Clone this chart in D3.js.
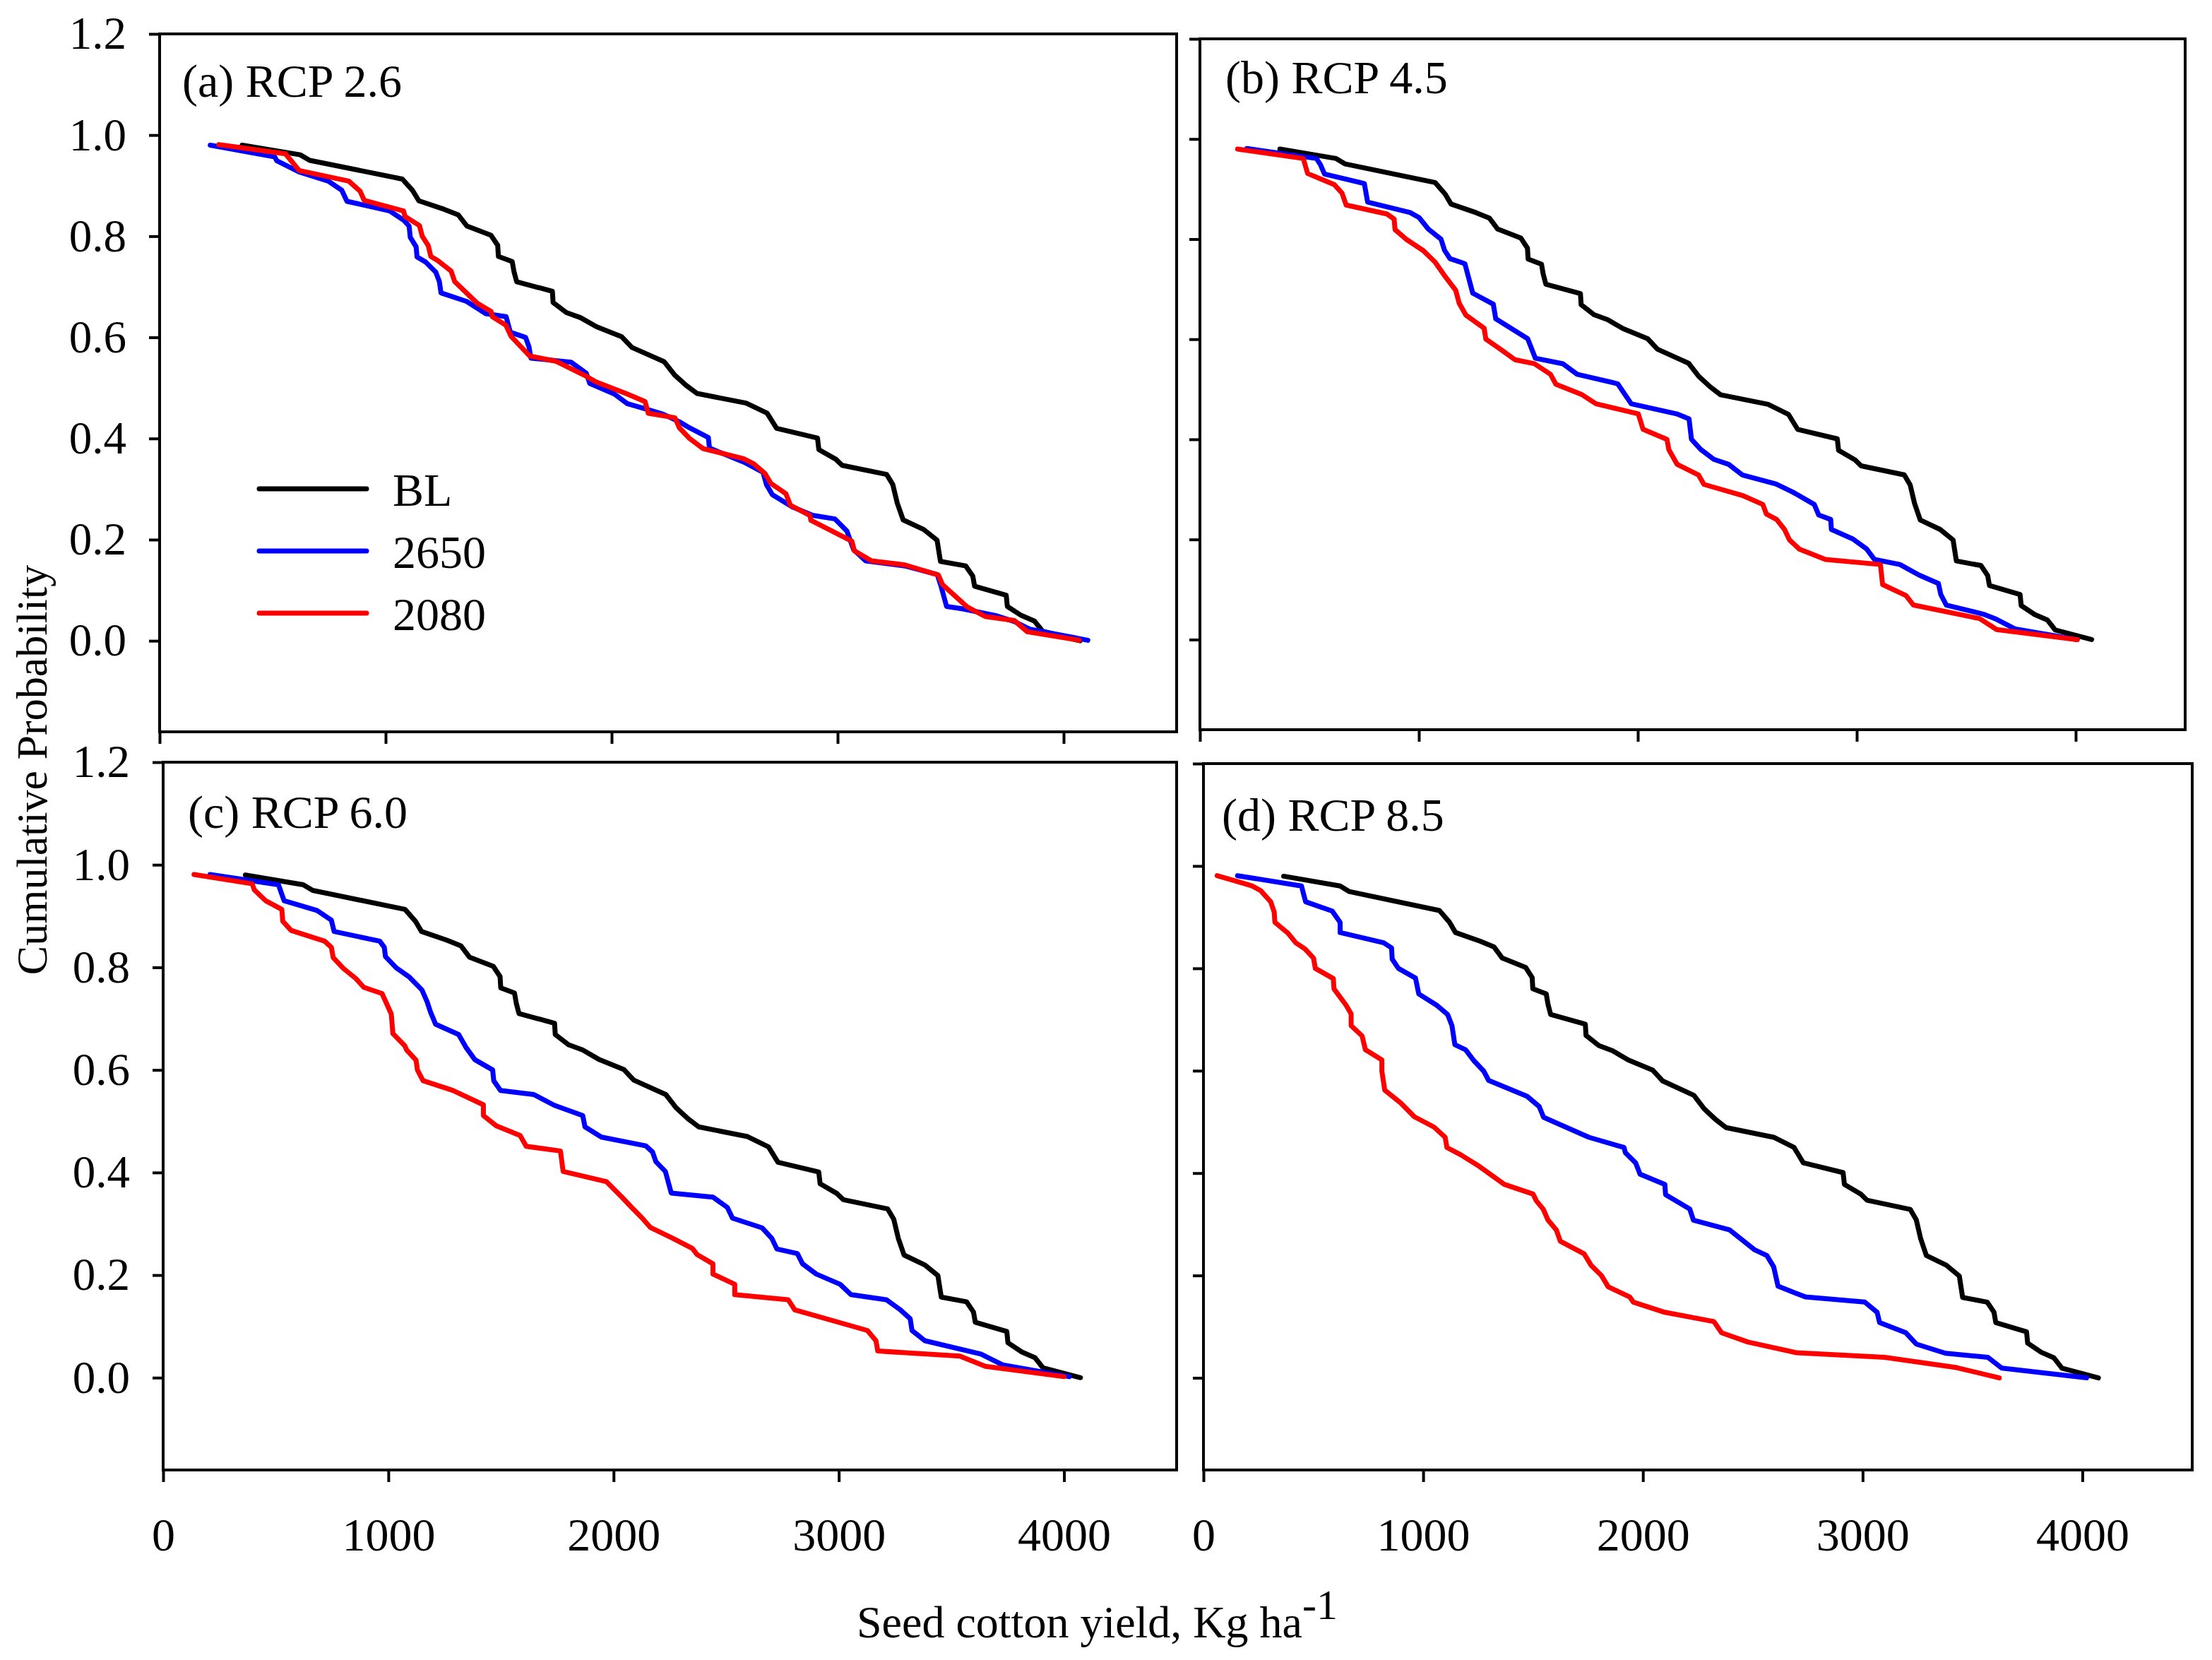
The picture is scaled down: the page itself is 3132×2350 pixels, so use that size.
<!DOCTYPE html>
<html>
<head>
<meta charset="utf-8">
<script src="https://cdn.jsdelivr.net/npm/d3@7"></script>
<style>
  html, body { margin: 0; padding: 0; background: #ffffff; }
</style>
</head>
<body>
<script>
// ---------------- DATA ----------------
const xTicks = [0, 1000, 2000, 3000, 4000];
const yTicks = [0.0, 0.2, 0.4, 0.6, 0.8, 1.0, 1.2];
const xDomain = [0, 4500];
const yDomain = [-0.18, 1.2];
const seriesNames = ["BL", "2650", "2080"];
const seriesColors = ["#000000", "#0000ff", "#ff0000"];
const panelTitles = ["(a) RCP 2.6", "(b) RCP 4.5", "(c) RCP 6.0", "(d) RCP 8.5"];

// [seed cotton yield (kg/ha), cumulative probability]
const baseline = [[365,0.980],[622,0.961],[664,0.950],[1074,0.913],[1120,0.890],[1147,0.870],[1260,0.853],[1322,0.842],[1360,0.820],[1466,0.802],[1496,0.782],[1499,0.760],[1560,0.750],[1568,0.730],[1580,0.710],[1738,0.691],[1741,0.669],[1800,0.649],[1862,0.639],[1933,0.621],[2045,0.601],[2090,0.580],[2232,0.552],[2278,0.526],[2330,0.505],[2378,0.489],[2595,0.470],[2688,0.450],[2730,0.420],[2911,0.401],[2917,0.378],[2992,0.359],[3020,0.347],[3217,0.329],[3244,0.309],[3264,0.272],[3290,0.239],[3381,0.220],[3440,0.199],[3455,0.157],[3567,0.148],[3598,0.128],[3606,0.108],[3746,0.090],[3751,0.068],[3813,0.050],[3871,0.039],[3907,0.019],[4073,0.000]];

const rcp26_2650 = [[224,0.980],[509,0.957],[519,0.949],[617,0.927],[746,0.909],[806,0.891],[829,0.869],[1018,0.850],[1079,0.832],[1104,0.820],[1109,0.798],[1135,0.779],[1139,0.759],[1177,0.749],[1222,0.729],[1238,0.710],[1245,0.688],[1359,0.671],[1442,0.647],[1533,0.641],[1552,0.610],[1619,0.600],[1634,0.582],[1643,0.559],[1820,0.551],[1888,0.529],[1903,0.509],[2012,0.488],[2069,0.469],[2153,0.458],[2228,0.448],[2300,0.433],[2345,0.421],[2428,0.402],[2433,0.381],[2587,0.353],[2670,0.333],[2685,0.309],[2711,0.289],[2799,0.265],[2889,0.248],[2988,0.241],[3041,0.217],[3071,0.180],[3124,0.158],[3298,0.148],[3441,0.131],[3457,0.109],[3482,0.068],[3555,0.063],[3706,0.049],[3782,0.038],[3850,0.023],[4107,0.001]];
const rcp26_2080 = [[262,0.981],[557,0.963],[617,0.930],[837,0.909],[887,0.889],[905,0.871],[1079,0.850],[1086,0.839],[1150,0.821],[1162,0.800],[1189,0.781],[1200,0.760],[1230,0.752],[1290,0.731],[1306,0.710],[1404,0.668],[1467,0.651],[1472,0.641],[1532,0.624],[1555,0.602],[1638,0.563],[1752,0.553],[1888,0.523],[1930,0.512],[2069,0.488],[2148,0.473],[2162,0.450],[2280,0.441],[2300,0.421],[2345,0.400],[2405,0.380],[2584,0.360],[2629,0.350],[2678,0.331],[2705,0.311],[2771,0.291],[2791,0.268],[2877,0.248],[2882,0.238],[3063,0.197],[3074,0.178],[3150,0.158],[3298,0.150],[3446,0.130],[3464,0.111],[3573,0.067],[3653,0.048],[3782,0.040],[3839,0.018],[4069,0.001]];

const rcp45_2650 = [[214,0.981],[532,0.961],[550,0.949],[569,0.930],[751,0.911],[766,0.874],[960,0.853],[1001,0.843],[1043,0.820],[1101,0.800],[1117,0.778],[1142,0.761],[1210,0.751],[1246,0.692],[1340,0.670],[1351,0.641],[1497,0.601],[1532,0.562],[1658,0.551],[1723,0.530],[1908,0.511],[1970,0.471],[2177,0.451],[2234,0.441],[2245,0.400],[2287,0.380],[2347,0.360],[2415,0.350],[2477,0.329],[2631,0.311],[2706,0.295],[2806,0.270],[2826,0.249],[2881,0.240],[2884,0.220],[2982,0.201],[3045,0.181],[3081,0.160],[3197,0.150],[3284,0.129],[3373,0.112],[3384,0.090],[3409,0.069],[3577,0.051],[3631,0.042],[3725,0.021],[4007,0.000]];
const rcp45_2080 = [[172,0.980],[472,0.961],[492,0.931],[613,0.909],[649,0.892],[668,0.868],[855,0.850],[887,0.840],[891,0.819],[941,0.800],[1020,0.777],[1074,0.754],[1114,0.729],[1168,0.698],[1184,0.672],[1215,0.648],[1298,0.622],[1306,0.600],[1376,0.579],[1439,0.559],[1528,0.551],[1601,0.530],[1626,0.510],[1742,0.490],[1809,0.471],[2002,0.451],[2024,0.420],[2133,0.400],[2142,0.379],[2180,0.350],[2277,0.329],[2302,0.310],[2477,0.288],[2571,0.270],[2587,0.251],[2634,0.240],[2670,0.220],[2693,0.199],[2737,0.181],[2857,0.160],[3108,0.150],[3118,0.110],[3225,0.088],[3259,0.069],[3561,0.042],[3639,0.020],[4007,0.000]];

const rcp60_2650 = [[208,0.981],[512,0.961],[537,0.930],[683,0.911],[747,0.892],[759,0.870],[962,0.851],[982,0.839],[987,0.821],[1035,0.799],[1093,0.781],[1149,0.756],[1172,0.733],[1187,0.713],[1210,0.689],[1312,0.669],[1346,0.643],[1384,0.620],[1463,0.600],[1468,0.579],[1498,0.560],[1646,0.552],[1737,0.531],[1863,0.511],[1873,0.489],[1946,0.469],[2143,0.452],[2173,0.440],[2188,0.421],[2230,0.402],[2256,0.360],[2441,0.352],[2505,0.332],[2528,0.311],[2660,0.292],[2702,0.272],[2725,0.251],[2816,0.242],[2839,0.222],[2900,0.202],[3006,0.182],[3054,0.162],[3211,0.152],[3271,0.133],[3317,0.115],[3325,0.092],[3382,0.072],[3631,0.046],[3727,0.025],[4023,0.002]];
const rcp60_2080 = [[137,0.981],[395,0.963],[405,0.951],[455,0.930],[527,0.913],[531,0.890],[568,0.872],[717,0.851],[747,0.839],[755,0.819],[800,0.798],[856,0.778],[891,0.761],[972,0.749],[1013,0.709],[1020,0.671],[1073,0.647],[1081,0.639],[1123,0.619],[1129,0.600],[1154,0.579],[1286,0.560],[1422,0.532],[1422,0.511],[1479,0.491],[1585,0.472],[1612,0.451],[1764,0.442],[1776,0.402],[1969,0.382],[2037,0.352],[2080,0.332],[2125,0.312],[2163,0.293],[2262,0.272],[2350,0.252],[2371,0.240],[2441,0.222],[2441,0.202],[2538,0.182],[2538,0.162],[2775,0.152],[2805,0.132],[3127,0.092],[3165,0.072],[3173,0.052],[3537,0.042],[3651,0.022],[4000,0.002]];

const rcp85_2650 = [[155,0.981],[446,0.961],[465,0.930],[586,0.912],[622,0.890],[622,0.870],[820,0.850],[856,0.840],[859,0.818],[887,0.800],[965,0.781],[980,0.750],[1061,0.728],[1111,0.710],[1131,0.688],[1144,0.651],[1193,0.641],[1232,0.619],[1276,0.599],[1298,0.581],[1473,0.550],[1528,0.530],[1548,0.509],[1754,0.470],[1914,0.450],[1920,0.440],[1967,0.420],[1987,0.398],[2100,0.378],[2103,0.358],[2213,0.330],[2230,0.308],[2395,0.289],[2509,0.250],[2564,0.239],[2595,0.217],[2615,0.179],[2740,0.158],[3010,0.148],[3066,0.128],[3077,0.108],[3197,0.088],[3244,0.066],[3377,0.048],[3570,0.040],[3633,0.019],[4019,0.000]];
const rcp85_2080 = [[62,0.981],[159,0.969],[221,0.961],[260,0.952],[306,0.930],[322,0.910],[325,0.890],[384,0.869],[420,0.850],[462,0.838],[501,0.820],[509,0.800],[591,0.780],[594,0.760],[649,0.728],[672,0.711],[672,0.688],[722,0.668],[737,0.641],[812,0.621],[812,0.599],[825,0.562],[898,0.537],[960,0.510],[1049,0.490],[1100,0.470],[1108,0.450],[1170,0.436],[1256,0.413],[1369,0.378],[1500,0.359],[1515,0.346],[1547,0.329],[1567,0.309],[1606,0.289],[1624,0.267],[1733,0.242],[1764,0.220],[1811,0.200],[1842,0.178],[1940,0.158],[1956,0.148],[2100,0.128],[2323,0.110],[2358,0.088],[2478,0.070],[2699,0.049],[3100,0.040],[3427,0.020],[3622,0.000]];

const panelSeries = [
  [baseline, rcp26_2650, rcp26_2080],
  [baseline, rcp45_2650, rcp45_2080],
  [baseline, rcp60_2650, rcp60_2080],
  [baseline, rcp85_2650, rcp85_2080]
];

// ---------------- LAYOUT ----------------
const W = 3132, H = 2350;
const FONT = "'Liberation Serif', 'Times New Roman', Times, serif";
const panels = [
  {left: 226,  right: 1666, top: 48,   bottom: 1036, xLab: false, yLab: true,  tx: 258,  ty: 137},
  {left: 1699, right: 3094, top: 55,   bottom: 1033, xLab: false, yLab: false, tx: 1735, ty: 132},
  {left: 231,  right: 1666, top: 1079, bottom: 2081, xLab: true,  yLab: true,  tx: 266,  ty: 1172},
  {left: 1704, right: 3104, top: 1081, bottom: 2081, xLab: true,  yLab: false, tx: 1730, ty: 1176}
];

const svg = d3.select("body").append("svg")
  .attr("width", W).attr("height", H)
  .attr("viewBox", `0 0 ${W} ${H}`)
  .style("display", "block")
  .style("background", "#ffffff");

panels.forEach((P, i) => {
  const x = d3.scaleLinear().domain(xDomain).range([P.left, P.right]);
  const y = d3.scaleLinear().domain(yDomain).range([P.bottom, P.top]);

  // x axis ticks (outward, below frame)
  const gx = svg.append("g")
    .attr("transform", `translate(0,${P.bottom})`)
    .call(d3.axisBottom(x).tickValues(xTicks).tickSize(17).tickSizeOuter(0).tickPadding(50)
      .tickFormat(P.xLab ? d3.format("d") : () => ""));
  gx.select(".domain").remove();
  gx.attr("font-family", FONT).attr("font-size", 66);
  gx.selectAll(".tick line").attr("stroke", "#000").attr("stroke-width", 4);
  gx.selectAll(".tick text").attr("fill", "#000");

  // y axis ticks (outward, left of frame)
  const gy = svg.append("g")
    .attr("transform", `translate(${P.left},0)`)
    .call(d3.axisLeft(y).tickValues(yTicks).tickSize(15).tickSizeOuter(0).tickPadding(32)
      .tickFormat(P.yLab ? d3.format(".1f") : () => ""));
  gy.select(".domain").remove();
  gy.attr("font-family", FONT).attr("font-size", 65);
  gy.selectAll(".tick line").attr("stroke", "#000").attr("stroke-width", 4);
  gy.selectAll(".tick text").attr("fill", "#000");

  // frame
  svg.append("rect")
    .attr("x", P.left).attr("y", P.top)
    .attr("width", P.right - P.left).attr("height", P.bottom - P.top)
    .attr("fill", "none").attr("stroke", "#000").attr("stroke-width", 4);

  // curves
  const line = d3.line().x(d => x(d[0])).y(d => y(d[1]));
  panelSeries[i].forEach((s, k) => {
    svg.append("path")
      .datum(s)
      .attr("d", line)
      .attr("fill", "none")
      .attr("stroke", seriesColors[k])
      .attr("stroke-width", 7)
      .attr("stroke-linejoin", "round")
      .attr("stroke-linecap", "round");
  });

  // panel title
  svg.append("text")
    .attr("x", P.tx).attr("y", P.ty)
    .attr("font-family", FONT).attr("font-size", 66)
    .attr("fill", "#000")
    .text(panelTitles[i]);
});

// legend (panel a)
const legRows = [692, 780, 868];
seriesNames.forEach((name, k) => {
  svg.append("line")
    .attr("x1", 367).attr("x2", 519)
    .attr("y1", legRows[k]).attr("y2", legRows[k])
    .attr("stroke", seriesColors[k]).attr("stroke-width", 7)
    .attr("stroke-linecap", "round");
  svg.append("text")
    .attr("x", 556).attr("y", legRows[k] + 24)
    .attr("font-family", FONT).attr("font-size", 66)
    .attr("fill", "#000")
    .text(name);
});

// y axis title
svg.append("text")
  .attr("transform", "translate(66,1090) rotate(-90)")
  .attr("text-anchor", "middle")
  .attr("font-family", FONT).attr("font-size", 62)
  .attr("fill", "#000")
  .text("Cumulative Probability");

// x axis title
const xt = svg.append("text")
  .attr("x", 1213).attr("y", 2318)
  .attr("font-family", FONT).attr("font-size", 64)
  .attr("fill", "#000");
xt.append("tspan").text("Seed cotton yield, Kg ha");
xt.append("tspan").attr("dy", -26).attr("font-size", 60).text("-1");
</script>
</body>
</html>
